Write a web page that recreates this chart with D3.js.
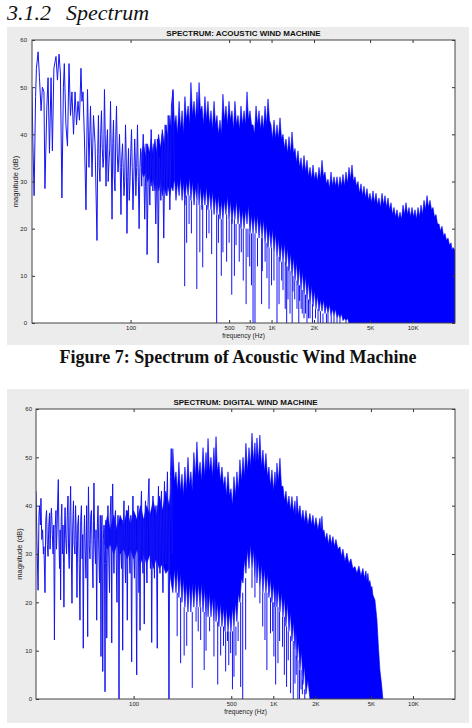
<!DOCTYPE html>
<html>
<head>
<meta charset="utf-8">
<script src="https://cdnjs.cloudflare.com/ajax/libs/d3/7.8.5/d3.min.js"></script>
<style>
  body { margin: 0; background: #fff; }
  svg { display: block; }
  .tick text { font-family: "Liberation Sans", Arial, sans-serif; font-size: 6px; fill: #222; }
  .tick line { stroke: #333; }
</style>
</head>
<body>
<script>
// values (freq in Hz, magnitude in dB)

const magTicks = [0, 10, 20, 30, 40, 50, 60];
const acousticTicks = [100, 500, 700, 1000, 2000, 5000, 10000];
const acousticTickLabels = ['100', '500', '700', '1K', '2K', '5K', '10K'];
const digitalTicks = [100, 500, 1000, 2000, 5000, 10000];
const digitalTickLabels = ['100', '500', '1K', '2K', '5K', '10K'];

// low-frequency trace: [freq, dB]
const acousticLine = [
  [20.0, 50], [20.3, 38], [20.7, 27], [21.2, 48], [21.5, 54], [22.1, 57.5], [22.6, 52], [23.2, 45],
  [23.7, 50], [24.3, 49], [24.7, 28.5], [25.5, 46], [26.0, 52], [26.6, 36], [27.3, 52], [27.9, 36.5],
  [28.6, 54], [29.6, 56.5], [30.3, 51.5], [31.1, 57], [31.8, 53], [32.6, 26.5], [33.4, 50], [33.9, 55],
  [34.8, 42], [35.7, 37.5], [36.6, 55], [37.5, 44], [38.4, 49], [39.4, 40], [40.4, 49], [41.4, 42],
  [42.4, 47], [43.4, 43], [44.5, 54], [45.2, 47], [46.0, 49], [47.1, 39], [48.3, 24], [49.5, 49.5],
  [50.7, 33], [52.0, 46], [53.3, 31], [54.6, 44], [56.0, 38], [57.8, 17.5], [58.5, 36], [59.2, 44],
  [59.9, 33], [60.7, 30], [61.4, 40], [62.2, 45], [63.0, 37], [63.8, 33], [64.5, 35], [65.3, 49.5],
  [66.1, 40], [67.0, 29], [67.8, 38], [68.6, 41], [69.4, 30], [70.3, 34], [71.2, 37], [72.1, 47],
  [73.0, 35], [73.9, 22], [74.8, 38], [75.7, 43], [76.6, 31], [77.6, 28], [78.5, 39], [79.5, 46],
  [80.5, 36], [81.5, 32], [82.5, 35], [83.5, 40], [84.5, 33], [85.5, 23], [86.6, 35], [87.7, 38],
  [88.7, 33], [89.8, 27], [90.9, 30], [92.1, 42], [93.2, 35], [94.3, 19], [95.5, 31], [96.7, 37],
  [97.9, 26], [99.1, 30], [100.3, 36], [101.6, 41], [102.8, 33], [104, 24], [105.5, 31], [107, 39],
  [108, 35], [109, 27], [110.5, 33], [112, 42], [113.5, 31], [115, 20], [116.5, 33], [118, 37],
  [119, 33], [120, 29], [121.5, 35], [123, 40], [124.5, 31], [126, 22], [127.5, 29], [129, 38],
  [130, 33], [131, 14.5], [134, 36], [137, 25], [140, 41], [144, 28], [147, 38], [151, 21],
  [155, 39], [157, 12.7], [160, 35], [164, 26], [168, 40], [172, 18], [176, 42], [181, 27],
  [185, 44], [190, 24], [195, 46], [200, 49.5], [205, 30]
];

// dense part: [freq, top dB, bottom dB]
const acousticBand = [
  [120, 36, 32], [124, 38, 31], [128, 35, 32], [132, 38, 30], [136, 36, 31], [140, 39, 29],
  [144, 36, 31], [149, 39, 28], [153, 36, 30], [158, 40, 28], [163, 37, 30], [168, 41, 27],
  [173, 38, 29], [179, 42, 27], [184, 39, 29], [190, 44, 27], [195, 41, 29],
  [200, 49, 28], [205, 42, 31], [210, 44, 26], [215, 40, 30], [221, 47, 27], [226, 41, 31],
  [232, 45, 26], [237, 40, 30], [243, 48, 25], [249, 43, 30], [256, 46, 27], [262, 42, 31],
  [268, 51, 26], [275, 44, 30], [282, 47, 25], [289, 43, 29], [296, 49, 26], [301, 44, 30],
  [306, 51, 25], [313, 45, 29], [321, 46, 24], [329, 42, 28], [337, 48, 25], [345, 43, 29],
  [354, 47, 24], [363, 42, 28], [372, 45, 24], [381, 41, 28], [391, 47, 23], [400, 42, 27],
  [410, 44, 23], [420, 40, 27], [431, 43, 22], [441, 40, 26], [452, 48.5, 22], [463, 43, 26],
  [475, 46, 23], [487, 42, 27], [499, 47, 22], [511, 43, 26], [524, 45, 21], [537, 41, 25],
  [550, 47, 22], [564, 42, 26], [578, 44, 21], [592, 41, 25], [607, 46, 20], [622, 42, 24],
  [638, 45, 20], [654, 42, 24], [670, 49, 21], [686, 43, 25], [703, 45, 19], [721, 42, 23],
  [739, 42, 19], [757, 40, 23], [776, 46, 19], [795, 42, 23], [815, 45, 18], [835, 41, 22],
  [856, 44, 18], [877, 41, 22], [899, 46, 17], [921, 42, 21], [944, 47.5, 16], [967, 43, 20],
  [991, 42, 16], [1016, 39, 20], [1041, 43, 15], [1067, 39, 19], [1093, 42, 14], [1120, 39, 18],
  [1148, 43.5, 13], [1177, 39, 17], [1206, 40, 13], [1236, 37, 17], [1266, 39, 12], [1298, 36, 16],
  [1330, 39.5, 11], [1363, 36, 15], [1397, 40.5, 10], [1432, 36, 14], [1467, 37, 9], [1503, 34, 13],
  [1540, 36.5, 8], [1578, 33, 12], [1618, 35, 7], [1658, 32, 11], [1699, 35.5, 6], [1741, 32, 10],
  [1784, 34.5, 5], [1828, 31, 9], [1874, 33, 4], [1921, 30.5, 8], [1968, 33.5, 3.5], [2016, 30.5, 7],
  [2066, 32, 3], [2117, 30, 6], [2170, 33, 2.5], [2224, 30.5, 5], [2279, 34.5, 2.5], [2335, 31, 5],
  [2393, 32, 2], [2452, 29.5, 4], [2513, 30.5, 2], [2576, 28.5, 4], [2640, 32, 1.5], [2705, 29, 3],
  [2772, 31, 1.5], [2841, 29, 3], [2911, 31, 1], [2983, 28.5, 2], [3057, 31, 1], [3133, 29, 2],
  [3211, 31.5, 0.5], [3291, 29, 1], [3373, 32, 0.5], [3457, 29.5, 1], [3542, 33, 0], [3630, 30.5, 0],
  [3720, 33.5, 0], [3812, 30, 0], [3907, 31, 0], [4004, 29, 0], [4103, 30, 0], [4205, 27.5, 0],
  [4309, 29.5, 0], [4416, 27, 0], [4525, 29, 0], [4637, 26.5, 0], [4752, 28.5, 0], [4870, 26, 0],
  [4991, 27.5, 0], [5115, 25.5, 0], [5241, 28, 0], [5371, 25.5, 0], [5505, 27.5, 0], [5642, 25, 0],
  [5781, 26.5, 0], [5925, 24.5, 0], [6072, 27.5, 0], [6222, 25, 0], [6376, 27, 0], [6534, 24.5, 0],
  [6696, 26.5, 0], [6863, 24, 0], [7033, 25.5, 0], [7207, 23, 0], [7386, 24.5, 0], [7569, 22.5, 0],
  [7757, 24, 0], [7950, 22, 0], [8147, 23.5, 0], [8349, 22, 0], [8556, 25, 0], [8769, 23, 0],
  [8986, 25.5, 0], [9209, 23, 0], [9437, 24.5, 0], [9671, 22.5, 0], [9911, 24.5, 0], [10157, 22.5, 0],
  [10409, 24, 0], [10667, 22, 0], [10932, 24.5, 0], [11203, 22.5, 0], [11481, 25, 0], [11765, 23, 0],
  [12057, 26, 0], [12356, 24, 0], [12663, 27, 0], [12977, 24.5, 0], [13299, 26, 0], [13629, 24, 0],
  [13966, 24.5, 0], [14312, 22.5, 0], [14667, 23, 0], [15031, 21, 0], [15404, 21, 0], [15786, 19.5, 0],
  [16177, 20.5, 0], [16579, 18.5, 0], [16990, 19, 0], [17411, 17.5, 0], [17843, 18, 0], [18285, 16.5, 0],
  [18737, 17, 0], [19044, 15.5, 0], [19356, 16, 0], [20000, 15.5, 0]
];

// single notches below the dense part: [freq, from dB, to dB]
const acousticDips = [
  [242, 26, 7.8], [250, 27, 17], [260, 27, 21], [270, 26, 19], [295, 26, 7.2], [310, 25, 15],
  [325, 25, 11.8], [346, 25, 18], [360, 24, 19], [376, 24, 14.6], [408, 23, 0], [420, 23, 17],
  [440, 22, 10], [452, 22, 15], [480, 23, 13], [500, 22, 17], [522, 22, 6], [545, 22, 10],
  [560, 21, 16.5], [590, 21, 13], [610, 20, 15], [630, 20, 9], [660, 20, 4], [680, 20, 14],
  [700, 19, 12], [720, 19, 8], [739, 19, 0], [763, 19, 0], [795, 18, 12], [850, 18, 4],
  [860, 18, 11], [900, 17, 13], [928, 17, 9.5], [960, 16, 3], [1000, 16, 8], [1040, 15, 9],
  [1093, 14, 0], [1130, 14, 4], [1180, 13, 9], [1206, 13, 7], [1250, 13, 3], [1280, 12, 0],
  [1308, 12, 5], [1352, 11, 2], [1400, 10, 0], [1420, 10, 6.7], [1460, 9, 5], [1515, 9, 3],
  [1560, 8, 0], [1580, 8, 4.7], [1620, 7, 3], [1650, 7, 2], [1699, 6, 1], [1740, 6, 2],
  [1784, 5, 0], [1830, 5, 1], [1874, 4, 1], [1950, 4, 0], [2050, 3, 1], [2136, 3, 0],
  [2220, 2.5, 0], [2315, 2, 0], [2450, 2, 0], [2513, 2, 0], [2650, 1.5, 0], [2772, 1.5, 0],
  [2911, 1, 0], [3057, 1, 0], [3373, 0.5, 0]
];

const digitalLine = [
  [20, 43], [20.3, 33], [20.7, 22.5], [21.0, 38], [21.2, 40], [21.5, 36], [21.7, 41.5], [22.0, 33],
  [22.3, 35], [22.6, 30], [22.8, 31.5], [23.2, 22], [23.5, 37], [23.8, 39], [24.1, 32], [24.4, 29.5],
  [24.7, 36], [25.0, 38.5], [25.2, 31], [25.4, 33], [25.6, 38], [25.8, 39.5], [26.2, 34], [26.5, 30],
  [26.8, 36], [27.1, 12.2], [27.4, 35], [27.8, 39], [28.0, 31], [28.3, 35], [28.6, 41], [28.9, 45.4],
  [29.2, 33], [29.5, 27], [29.8, 35], [30.0, 20.5], [30.3, 37], [30.6, 40.3], [30.9, 30], [31.2, 36],
  [31.5, 28], [31.7, 19], [32.0, 35], [32.3, 39.6], [32.7, 33], [33.1, 30], [33.5, 38], [33.9, 42],
  [34.2, 31], [34.6, 27], [35.0, 38], [35.4, 44], [35.8, 30], [36.2, 19.8], [36.6, 35], [37.1, 41],
  [37.5, 32], [38.0, 30], [38.4, 40], [38.9, 33], [39.3, 21], [39.8, 36], [40.3, 38], [40.8, 28],
  [41.3, 16.3], [41.8, 37], [42.3, 40], [42.8, 29], [43.2, 34], [43.6, 10.5], [44.1, 33], [44.5, 38],
  [45.0, 31], [45.6, 25], [46.1, 40], [46.5, 30], [46.9, 12.9], [47.2, 36], [47.5, 43.9], [48.1, 32],
  [48.7, 29], [49.3, 38], [49.9, 39], [50.5, 30], [51.2, 23], [51.6, 37], [52.0, 44.7], [52.6, 33],
  [53.3, 28], [53.8, 35], [54.4, 16.3], [55.0, 36], [55.6, 40], [56.3, 31], [57.0, 24], [57.7, 38],
  [58.4, 8.8], [58.9, 35], [59.4, 38], [60.1, 5.7], [60.7, 33], [61.4, 36], [61.9, 28], [62.4, 1.5],
  [62.9, 33], [63.4, 37], [63.8, 29], [64.2, 12.6], [64.9, 35], [65.5, 40], [66.3, 30], [67.2, 22],
  [68.0, 38], [68.9, 42], [69.3, 30], [69.7, 11.6], [70.2, 36], [70.8, 44.5], [71.5, 33], [72.3, 26],
  [73.2, 37], [74.2, 39], [75.1, 29], [76.0, 20], [76.6, 35], [77.3, 38], [78.0, 30], [78.6, 0],
  [79.2, 33], [79.9, 36], [80.9, 31], [81.9, 27], [82.7, 37], [83.5, 10.1], [84.4, 36], [85.3, 41],
  [86.4, 31], [87.5, 24], [88.8, 39], [90.1, 16.3], [91.0, 34], [91.9, 40], [93.0, 31], [94.2, 26],
  [95.5, 38], [96.8, 7.7], [97.8, 35], [98.9, 42], [100.1, 31], [101.4, 25], [102.6, 38], [103.9, 29],
  [105.2, 5], [106.3, 36], [107.4, 40], [108.3, 30], [109.2, 22], [110.1, 37], [111.1, 14.2], [112.4, 38],
  [113.8, 43], [115.2, 31], [116.7, 26], [118.0, 37], [119.2, 15.5], [120.4, 37], [121.6, 41], [123.1, 30],
  [124.6, 24], [126.7, 40], [128.8, 45.6], [130.4, 33], [132.0, 27], [133.3, 38], [134.7, 11.7], [136.1, 36],
  [137.6, 42], [139.3, 30], [141.0, 25], [142.8, 38], [144.6, 40], [146.1, 29], [147.7, 10.5], [149.1, 38],
  [150.6, 44], [152.5, 32], [154.4, 26], [156.3, 39], [158.3, 43], [160.2, 30], [162.2, 22], [164.2, 37],
  [166.3, 45], [168.4, 31], [170.5, 28], [172.6, 41], [174.7, 47], [176.9, 30], [179.1, 0], [181.3, 35],
  [183.6, 46], [186.0, 51.8], [189.7, 30]
];

const digitalBand = [
  [62, 35, 32], [65, 38, 31], [68, 35, 32], [72, 38, 30], [76, 35, 32], [80, 38, 30],
  [85, 36, 31], [90, 39, 29], [95, 36, 31], [100, 39, 29], [106, 37, 31], [112, 40, 28],
  [118, 37, 30], [124, 40, 28], [131, 38, 30], [138, 41, 27], [145, 38, 29], [153, 42, 27],
  [161, 39, 28], [170, 43, 26], [180, 40, 27], [186, 44, 24],
  [191, 51.8, 22], [196, 45, 27], [201, 47, 22], [206, 43, 27], [211, 49, 21], [216, 43, 26],
  [222, 46.5, 20], [227, 42, 25], [233, 48, 19], [239, 43, 24], [245, 50, 18], [251, 44, 24],
  [257, 47, 18], [263, 43, 24], [270, 51, 19], [277, 46, 24], [284, 53.2, 19], [291, 46, 24],
  [299, 49, 19], [306, 45, 24], [314, 52, 18], [322, 46, 23], [330, 51, 17], [335, 47, 22],
  [341, 53.9, 17], [349, 47, 22], [358, 50, 17], [367, 46, 21], [376, 52, 16], [382, 47, 21],
  [389, 54.3, 16], [398, 47, 20], [408, 49, 15], [418, 45, 20], [429, 48, 15], [440, 44, 19],
  [451, 46, 14], [462, 42, 19], [474, 47, 14], [486, 42, 18], [498, 43.5, 14], [510, 40, 19],
  [523, 46, 15], [536, 42, 20], [549, 47, 16], [563, 43, 22], [577, 49.5, 20], [592, 45, 25],
  [607, 50, 24], [622, 46, 29], [637, 52.9, 26], [653, 47, 31], [670, 52, 27], [687, 48, 32],
  [704, 55, 27], [721, 49, 31], [739, 53, 25], [751, 49, 30], [764, 54, 24], [783, 49, 29],
  [802, 54.6, 23], [822, 48, 28], [843, 51.5, 22], [864, 47, 27], [886, 50.8, 22], [908, 46, 26],
  [931, 48, 21], [954, 44, 25], [978, 47.4, 20], [1003, 43, 24], [1028, 47, 19], [1045, 44, 23],
  [1062, 48.8, 19], [1089, 45, 23], [1116, 49.8, 18], [1144, 44, 22], [1173, 44, 17], [1202, 41, 21],
  [1232, 43, 15], [1263, 40, 20], [1295, 42, 14], [1327, 39, 18], [1360, 41.9, 12], [1394, 38.5, 16],
  [1429, 41, 10], [1453, 38, 14], [1477, 42, 8], [1514, 38, 12], [1552, 40, 6], [1591, 37, 10],
  [1631, 39.1, 3], [1672, 36.5, 7], [1713, 39, 1], [1770, 36, 4], [1829, 38.4, 0], [1875, 36, 0],
  [1922, 38, 0], [1970, 35.5, 0], [2020, 37.5, 0], [2088, 35, 0], [2158, 37.4, 0], [2194, 35, 0],
  [2230, 37.8, 0], [2267, 34.5, 0], [2304, 35, 0], [2362, 33, 0], [2421, 34.3, 0], [2482, 32, 0],
  [2544, 34, 0], [2608, 32, 0], [2673, 33.6, 0], [2740, 31.5, 0], [2809, 33, 0], [2903, 31, 0],
  [3000, 31.5, 0], [3075, 29.5, 0], [3152, 31, 0], [3257, 28.5, 0], [3366, 30.2, 0], [3479, 28, 0],
  [3595, 29, 0], [3716, 27, 0], [3841, 27.4, 0], [3970, 26, 0], [4103, 27.5, 0], [4240, 25.5, 0],
  [4382, 27, 0], [4492, 25, 0], [4605, 26.5, 0], [4681, 24.5, 0], [4758, 26, 0], [4837, 24, 0],
  [4917, 24.5, 0], [5000, 23, 0], [5083, 23.3, 0], [5168, 21.5, 0], [5254, 21, 0], [5342, 20.5, 0],
  [5521, 16.4, 0], [5659, 10.8, 0], [5800, 6, 0], [5946, 3.3, 0], [6094, 0, 0]
];

const digitalDips = [
  [205, 22, 13], [217, 21, 7.4], [230, 19, 9], [240, 18, 11], [263, 18, 2.3], [280, 19, 16],
  [290, 19, 14], [302, 19, 12.2], [320, 18, 6], [330, 17, 10], [350, 17, 14], [376, 16, 8.8],
  [400, 16, 3], [420, 15, 9], [440, 15, 11], [456, 14, 5.7], [470, 14, 12], [480, 14, 7],
  [495, 14, 9.5], [510, 14, 2], [523, 15, 4.6], [540, 15, 9], [560, 16, 12], [584, 20, 2.5],
  [604, 22, 0], [634, 25, 10.2], [704, 27, 23], [739, 25, 21], [802, 23, 19.8], [840, 22, 15],
  [872, 22, 12.2], [900, 22, 6], [955, 21, 13.6], [990, 20, 14], [1010, 20, 8.8], [1040, 19, 3],
  [1080, 19, 7.4], [1110, 18, 12], [1165, 17, 10.8], [1200, 17, 5], [1245, 15, 2.5], [1280, 14, 8],
  [1330, 13, 1.2], [1390, 12, 0], [1429, 10, 3.2], [1460, 9, 5], [1500, 8, 0], [1540, 6, 0],
  [1580, 6, 2], [1615, 4, 1], [1680, 2, 0]
];

const svg = d3.select('body').append('svg')
  .attr('width', 472)
  .attr('height', 728);

// section heading
const head = svg.append('text')
  .attr('y', 20)
  .style('font-family', '"Liberation Serif", "Times New Roman", serif')
  .style('font-style', 'italic')
  .style('font-size', '22px')
  .attr('fill', '#111');
head.append('tspan').attr('x', 7).text('3.1.2');
head.append('tspan').attr('x', 66).text('Spectrum');

function drawSpectrum(o) {
  const g = svg.append('g');

  g.append('rect')
    .attr('x', o.panel[0]).attr('y', o.panel[1])
    .attr('width', o.panel[2]).attr('height', o.panel[3])
    .attr('fill', '#ececec');

  const x = d3.scaleLog().domain([20, 20000]).range([o.left, o.right]);
  const y = d3.scaleLinear().domain([0, 60]).range([o.bottom, o.top]);

  g.append('rect')
    .attr('x', o.left).attr('y', o.top)
    .attr('width', o.right - o.left).attr('height', o.bottom - o.top)
    .attr('fill', '#fff');

  g.append('clipPath').attr('id', o.id)
    .append('rect')
    .attr('x', o.left).attr('y', o.top)
    .attr('width', o.right - o.left).attr('height', o.bottom - o.top);

  const plot = g.append('g').attr('clip-path', `url(#${o.id})`);

  const band = d3.area()
    .x(d => x(d[0]))
    .y0(d => y(d[2]))
    .y1(d => y(d[1]));

  plot.append('path')
    .datum(o.band)
    .attr('d', band)
    .attr('fill', '#0000ff')
    .attr('stroke', '#0000ff')
    .attr('stroke-width', 0.6);

  plot.selectAll('.dip')
    .data(o.dips)
    .enter().append('line')
    .attr('class', 'dip')
    .attr('x1', d => x(d[0])).attr('x2', d => x(d[0]))
    .attr('y1', d => y(d[1])).attr('y2', d => y(d[2]))
    .attr('stroke', '#1010f8')
    .attr('stroke-width', 1);

  const line = d3.line()
    .x(d => x(d[0]))
    .y(d => y(d[1]));

  plot.append('path')
    .datum(o.line)
    .attr('d', line)
    .attr('fill', 'none')
    .attr('stroke', '#1414f4')
    .attr('stroke-width', 1);

  // ticks on all four sides, pointing in
  const xb = g.append('g')
    .attr('transform', `translate(0,${o.bottom})`)
    .call(d3.axisBottom(x).tickValues(o.ticks).tickFormat((d, i) => o.tickLabels[i])
      .tickSizeInner(-3).tickSizeOuter(0).tickPadding(2.5));
  const xt = g.append('g')
    .attr('transform', `translate(0,${o.top})`)
    .call(d3.axisTop(x).tickValues(o.ticks).tickFormat('').tickSizeInner(-3).tickSizeOuter(0));
  const yl = g.append('g')
    .attr('transform', `translate(${o.left},0)`)
    .call(d3.axisLeft(y).tickValues(magTicks).tickSizeInner(-3).tickSizeOuter(0).tickPadding(o.yPad));
  const yr = g.append('g')
    .attr('transform', `translate(${o.right},0)`)
    .call(d3.axisRight(y).tickValues(magTicks).tickFormat('').tickSizeInner(-3).tickSizeOuter(0));
  [xb, xt, yl, yr].forEach(a => a.select('.domain').remove());

  g.append('rect')
    .attr('x', o.left).attr('y', o.top)
    .attr('width', o.right - o.left).attr('height', o.bottom - o.top)
    .attr('fill', 'none')
    .attr('stroke', '#444')
    .attr('stroke-width', 1);

  g.append('text')
    .attr('x', (o.left + o.right) / 2)
    .attr('y', o.top - 4)
    .attr('text-anchor', 'middle')
    .style('font-family', '"Liberation Sans", Arial, sans-serif')
    .style('font-weight', 'bold')
    .style('font-size', '8px')
    .attr('fill', '#111')
    .text(o.title);

  g.append('text')
    .attr('x', (o.left + o.right) / 2)
    .attr('y', o.bottom + 14.5)
    .attr('text-anchor', 'middle')
    .style('font-family', '"Liberation Sans", Arial, sans-serif')
    .style('font-size', '6.5px')
    .attr('fill', '#222')
    .text('frequency (Hz)');

  g.append('text')
    .attr('transform', `translate(${o.ylabX},${(o.top + o.bottom) / 2}) rotate(-90)`)
    .attr('text-anchor', 'middle')
    .style('font-family', '"Liberation Sans", Arial, sans-serif')
    .style('font-size', '7.5px')
    .attr('fill', '#222')
    .text('magnitude (dB)');
}

drawSpectrum({
  id: 'clipA', panel: [7, 27, 462, 318],
  left: 32, right: 455, top: 40, bottom: 323, yPad: 5, ylabX: 18,
  title: 'SPECTRUM: ACOUSTIC WIND MACHINE',
  ticks: acousticTicks, tickLabels: acousticTickLabels,
  line: acousticLine, band: acousticBand, dips: acousticDips
});

svg.append('text')
  .attr('x', 238)
  .attr('y', 363)
  .attr('text-anchor', 'middle')
  .style('font-family', '"Liberation Serif", "Times New Roman", serif')
  .style('font-weight', 'bold')
  .style('font-size', '18px')
  .attr('fill', '#111')
  .text('Figure 7: Spectrum of Acoustic Wind Machine');

drawSpectrum({
  id: 'clipD', panel: [7, 389, 462, 334],
  left: 36, right: 455, top: 409, bottom: 699, yPad: 4, ylabX: 22,
  title: 'SPECTRUM: DIGITAL WIND MACHINE',
  ticks: digitalTicks, tickLabels: digitalTickLabels,
  line: digitalLine, band: digitalBand, dips: digitalDips
});
</script>
</body>
</html>
